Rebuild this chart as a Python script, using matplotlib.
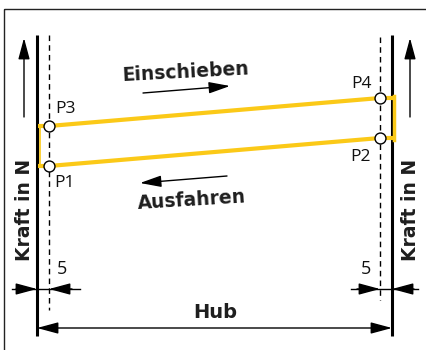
import matplotlib
matplotlib.use("Agg")
import matplotlib.pyplot as plt
from matplotlib.patches import Rectangle

# ---- data (schematic, in drawing units: x = stroke position, y = force axis inverted) ----
point_labels = ["P1", "P2", "P3", "P4"]
point_x = [49, 380, 49, 380]
point_y = [166, 138, 126, 98]
label_x = [54, 371, 55, 372]
label_y = [183, 157, 109, 84]
label_ha = ["left", "right", "left", "right"]

stroke_left = 37
stroke_right = 392
offset_label = "5"
axis_label = "Kraft in N"
stroke_label = "Hub"
push_label = "Einschieben"
pull_label = "Ausfahren"

YELLOW = "#FBC918"
TXT = "#1e1e1e"
THIN = dict(family="Open Sans", fontweight="normal", color="#111111")

fig = plt.figure(figsize=(4.26, 3.5), dpi=100)
ax = fig.add_axes([0, 0, 1, 1])
ax.set_xlim(0, 426)
ax.set_ylim(350, 0)
ax.axis("off")

# frame
ax.add_patch(Rectangle((4, 9), 440, 360, fill=False, edgecolor="#222222", lw=1.0))

# solid verticals
for x in (stroke_left, stroke_right):
    ax.plot([x, x], [35, 336], color="black", lw=2.2, solid_capstyle="butt", zorder=3)

# dashed verticals
ax.plot([point_x[0]] * 2, [35, 310], color="black", lw=1.0, dashes=(4, 3), zorder=2)
ax.plot([point_x[1]] * 2, [37, 300], color="black", lw=1.0, dashes=(4, 3), zorder=2)

# yellow hysteresis loop
ax.plot([stroke_left + 1, point_x[2], point_x[3], stroke_right + 2],
        [point_y[2], point_y[2], point_y[3], point_y[3]], color=YELLOW, lw=3, zorder=4,
        solid_capstyle="butt")
ax.plot([stroke_left + 1, point_x[0], point_x[1], stroke_right + 2],
        [point_y[0], point_y[0], point_y[1], point_y[1]], color=YELLOW, lw=3, zorder=4,
        solid_capstyle="butt")
ax.plot([stroke_left + 3, stroke_left + 3], [point_y[2], point_y[0]], color=YELLOW, lw=1.2, zorder=4)
ax.plot([stroke_right + 2, stroke_right + 2], [point_y[3] - 2, point_y[1] + 2], color=YELLOW, lw=2.5, zorder=4)

# points
ax.scatter(point_x, point_y, s=62, facecolor="white", edgecolor="black", linewidth=1.0, zorder=6)
for lab, lx, ly, ha in zip(point_labels, label_x, label_y, label_ha):
    ax.text(lx, ly, lab, ha=ha, va="center", fontsize=12.5, **THIN)

arrow_style = dict(arrowstyle="-|>,head_length=1.3,head_width=0.35", color="black", lw=1.0,
                   shrinkA=0, shrinkB=0, mutation_scale=10)

# force axis arrows
for x in (24, 410):
    ax.annotate("", xy=(x, 38), xytext=(x, 117), arrowprops=arrow_style)

# axis labels
for x in (25, 410):
    ax.text(x, 210, axis_label, rotation=90, ha="center", va="center", fontsize=13.5,
            fontweight="bold", color=TXT)

# direction labels
ax.text(185, 72, push_label, rotation=3, ha="center", va="center", fontsize=13.5,
        fontweight="bold", color=TXT)
ax.annotate("", xy=(230, 86), xytext=(143, 93), arrowprops=arrow_style)
ax.text(192, 200, pull_label, rotation=3.5, ha="center", va="center", fontsize=13.5,
        fontweight="bold", color=TXT)
ax.annotate("", xy=(140, 183), xytext=(227, 176), arrowprops=arrow_style)

# offset dimensions
ydim = 289
ax.plot([12, 80], [ydim, ydim], color="black", lw=1.0)
ax.annotate("", xy=(stroke_left, ydim), xytext=(16, ydim), arrowprops=arrow_style)
ax.annotate("", xy=(point_x[0], ydim), xytext=(72, ydim), arrowprops=arrow_style)
ax.plot([351, 418], [ydim, ydim], color="black", lw=1.0)
ax.annotate("", xy=(point_x[1], ydim), xytext=(357, ydim), arrowprops=arrow_style)
ax.annotate("", xy=(stroke_right, ydim), xytext=(414, ydim), arrowprops=arrow_style)
ax.text(62, 269, offset_label, ha="center", va="center", fontsize=13, **THIN)
ax.text(366, 269, offset_label, ha="center", va="center", fontsize=13, **THIN)

# stroke dimension
ax.annotate("", xy=(stroke_left, 328), xytext=(stroke_right, 328),
            arrowprops=dict(arrowstyle="<|-|>,head_length=1.3,head_width=0.35", color="black",
                            lw=1.0, shrinkA=0, shrinkB=0, mutation_scale=10))
ax.text(215, 313, stroke_label, ha="center", va="center", fontsize=14, fontweight="bold",
        color=TXT)

fig.savefig("out.png", dpi=100)
